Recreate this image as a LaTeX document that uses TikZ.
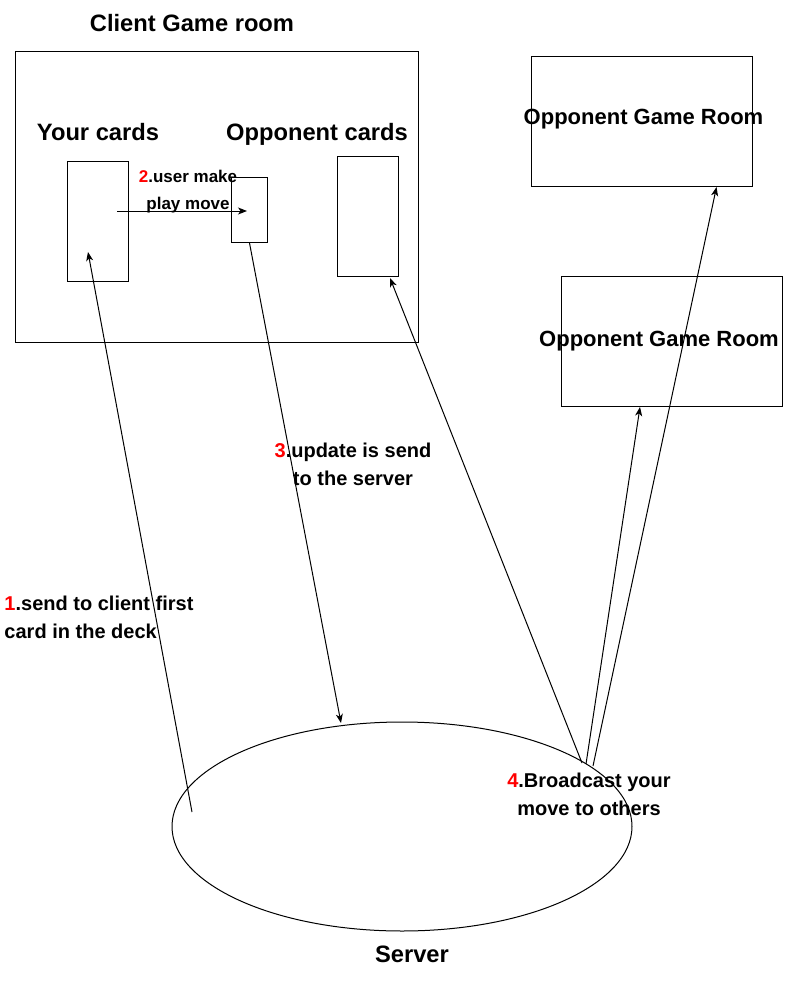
\documentclass[tikz,border=0pt]{standalone}
\usepackage{fontspec}
\setmainfont{Liberation Sans}
\usetikzlibrary{shapes.geometric,arrows.meta,positioning,calc}

\newcommand{\stepno}[1]{\textcolor{red}{#1}}

\begin{document}
\begin{tikzpicture}[x=1pt, y=-1pt, line width=1pt, >={Stealth[length=9pt,width=7pt,inset=2.5pt]},
        box/.style={draw, inner sep=0pt, anchor=north west},
        big/.style={font=\fontsize{23.7}{28}\selectfont\bfseries, inner sep=0pt, anchor=base},
        roomtext/.style={font=\fontsize{22}{26}\selectfont\bfseries, inner sep=0pt, anchor=base},
        steptext/.style={font=\fontsize{20}{28}\selectfont\bfseries, inner sep=0pt}]
        \useasboundingbox (0,0) rectangle (799,995);

        % Define nodes
        \node (client) [box, minimum width=403pt, minimum height=291pt] at (15,51) {};
        \node (clienttitle) [big] at (192,32) {Client Game room};
        \node (yourtitle) [big] at (98,141) {Your cards};
        \node (opptitle) [big] at (317,141) {Opponent cards};
        \node (yourcard) [box, minimum width=61pt, minimum height=120pt] at (67,161) {};
        \node (playcard) [box, minimum width=36pt, minimum height=65pt] at (231,177) {};
        \node (oppcard) [box, minimum width=61pt, minimum height=120pt] at (337,156) {};
        \node (rooma) [box, minimum width=221pt, minimum height=130pt] at (531,56) {};
        \node (roomatext) [roomtext] at (643.5,125) {Opponent Game Room};
        \node (roomb) [box, minimum width=221pt, minimum height=130pt] at (561,276) {};
        \node (roombtext) [roomtext] at (659,346) {Opponent Game Room};
        \node (server) [ellipse, draw, minimum width=460pt, minimum height=209pt, inner sep=0pt] at (402,826.5) {};
        \node (servertext) [big] at (412,962) {Server};

        % Step labels (base is on the last line)
        \node (stepone) [steptext, align=left, anchor=base west] at (4,638) {\stepno{1}.send to client first\\card in the deck};
        \node (steptwo) [steptext, font=\fontsize{17}{27}\selectfont\bfseries, align=center, anchor=base] at (188,209) {\stepno{2}.user make\\play move};
        \node (stepthree) [steptext, align=center, anchor=base] at (353,485) {\stepno{3}.update is send\\to the server};
        \node (stepfour) [steptext, align=center, anchor=base] at (589,815) {\stepno{4}.Broadcast your\\move to others};

        % Free ends
        \coordinate (deal) at (192,812);
        \coordinate (dealin) at (88,252);
        \coordinate (moveout) at (117,211);
        \coordinate (movein) at (247,211);
        \coordinate (sendin) at (341,723);
        \coordinate (castone) at (582,763);
        \coordinate (casttwo) at (586,764);
        \coordinate (castthree) at (593,766);
        \coordinate (oppin) at (390,278);
        \coordinate (roombin) at (640,407);
        \coordinate (roomain) at (716.5,187);

        % Draw arrows
        \draw[->] (deal) -- (dealin);
        \draw[->] (moveout) -- (movein);
        \draw[->] (playcard.south) -- (sendin);
        \draw[->] (castone) -- (oppin);
        \draw[->] (casttwo) -- (roombin);
        \draw[->] (castthree) -- (roomain);
\end{tikzpicture}
\end{document}
